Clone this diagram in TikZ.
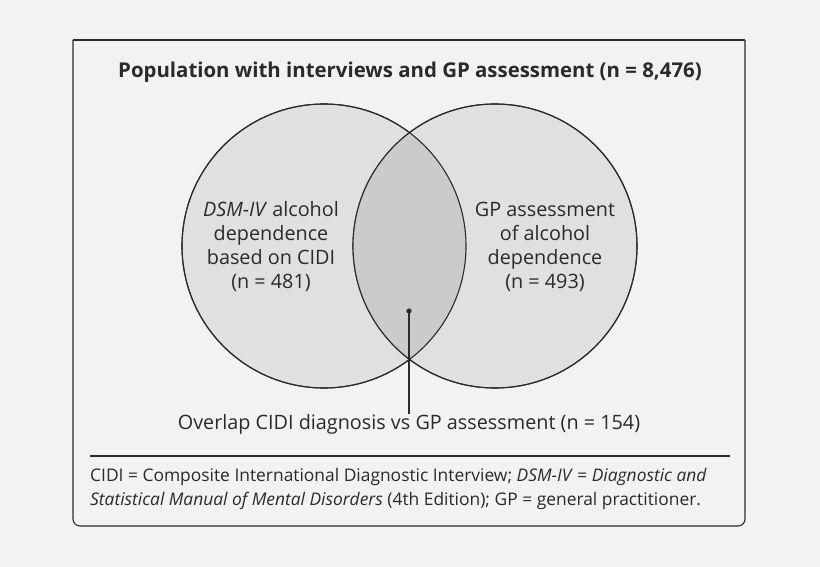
\documentclass[tikz,border=0pt]{standalone}
\usepackage{fontspec}
\setmainfont{Open Sans}
\definecolor{paper}{HTML}{F2F2F2}
\definecolor{setgrey}{HTML}{E0E0E0}
\definecolor{overlapgrey}{HTML}{CBCBCB}
\definecolor{ink}{HTML}{2A2A2A}
\tikzset{
  set/.style={draw=ink, line width=1.1pt, circle, minimum size=284pt, inner sep=0pt},
  setlabel/.style={align=center, text=ink, font=\fontsize{19.8}{24}\selectfont},
}
\begin{document}
\begin{tikzpicture}[x=1pt, y=-1pt]
        \fill[paper] (0,0) rectangle (820,567);
        \useasboundingbox (0,0) rectangle (820,567);

        % frame
        \draw[ink, line width=1.1pt, rounded corners=7pt] (73,40) -- (73,526) -- (745,526) -- (745,40);
        \draw[ink, line width=1.1pt] (73,40) -- (745,40);
        \draw[ink, line width=1.1pt] (90,456) -- (730,456);

        \node[text=ink, font=\fontsize{20.4}{24}\selectfont\bfseries] (title) at (410,72)
            {Population with interviews and GP assessment (n = 8,476)};

        % sets
        \node[set, fill=setgrey] (cidi) at (324,246) {};
        \node[set, fill=setgrey] (gp) at (495,246) {};
        \begin{scope}
            \clip (324,246) circle (142);
            \fill[overlapgrey] (495,246) circle (142);
        \end{scope}
        \draw[ink, line width=1.1pt] (324,246) circle (142);
        \draw[ink, line width=1.1pt] (495,246) circle (142);

        \node[setlabel] (cidilabel) at (271,247)
            {\textit{DSM-IV} alcohol\\dependence\\based on CIDI\\(n = 481)};
        \node[setlabel] (gplabel) at (545,247)
            {GP assessment\\of alcohol\\dependence\\(n = 493)};

        % overlap pointer
        \coordinate (dot) at (409,311);
        \node[setlabel, anchor=north, inner sep=0pt] (overlap) at (409,414)
            {Overlap CIDI diagnosis vs GP assessment (n = 154)};
        \fill[ink] (dot) circle (2.6);
        \draw[ink, line width=1.1pt] (dot) -- (overlap.north);

        \node[anchor=west, align=left, text=ink, font=\fontsize{17.4}{24}\selectfont, inner sep=0pt] (note) at (90,489)
            {CIDI = Composite International Diagnostic Interview; \textit{DSM-IV} = \textit{Diagnostic and}\\
             \textit{Statistical Manual of Mental Disorders} (4th Edition); GP = general practitioner.};
\end{tikzpicture}
\end{document}
